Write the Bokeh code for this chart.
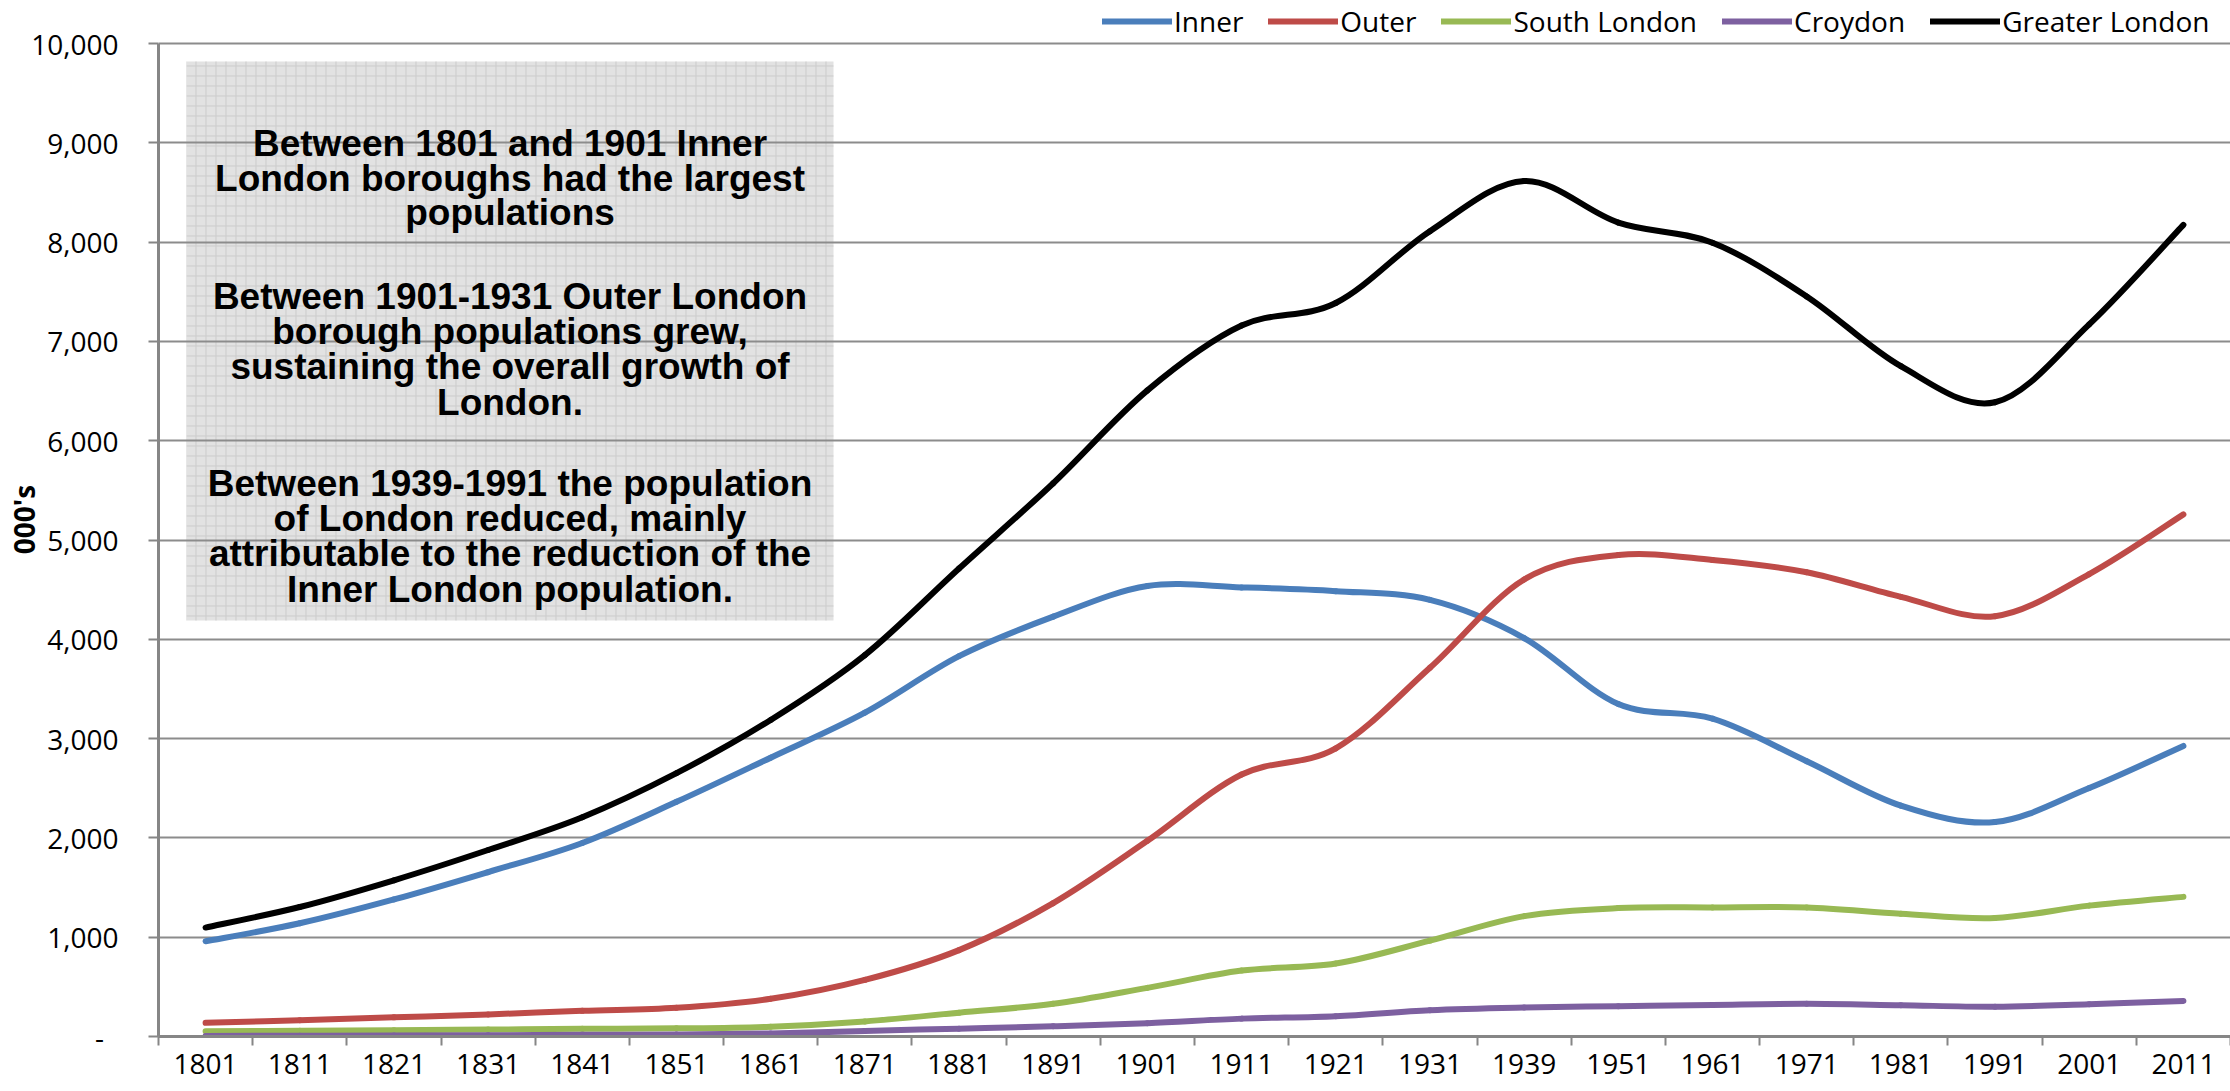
from bokeh.plotting import figure
from bokeh.models import (Range1d, FixedTicker, NumeralTickFormatter, Legend, LegendItem,
                          ColumnDataSource, LinearAxis, Grid)
from bokeh.core.properties import value
from bokeh.embed import file_html
from bokeh.resources import INLINE

# ---------------- data (thousands) ----------------
years = ["1801", "1811", "1821", "1831", "1841", "1851", "1861", "1871", "1881", "1891",
         "1901", "1911", "1921", "1931", "1939", "1951", "1961", "1971", "1981", "1991",
         "2001", "2011"]
inner = [959, 1140, 1380, 1656, 1949, 2363, 2808, 3261, 3830, 4228,
         4536, 4522, 4485, 4397, 4013, 3348, 3200, 2772, 2325, 2160, 2502, 2926]
outer = [138, 164, 193, 222, 259, 289, 380, 570, 870, 1344,
         1971, 2638, 2902, 3713, 4602, 4849, 4799, 4675, 4428, 4233, 4657, 5258]
south_london = [53, 57, 63, 70, 77, 82, 99, 152, 240, 329,
                490, 664, 735, 965, 1212, 1293, 1300, 1300, 1237, 1194, 1318, 1406]
croydon = [6, 8, 9, 12, 17, 20, 30, 56, 79, 103,
           134, 180, 205, 265, 292, 305, 318, 329, 315, 300, 325, 358]
greater_london = [1097, 1304, 1573, 1878, 2208, 2652, 3188, 3841, 4713, 5572,
                  6507, 7160, 7387, 8110, 8615, 8197, 7993, 7453, 6750, 6387, 7172, 8174]

series_names = ["Inner", "Outer", "South London", "Croydon", "Greater London"]
series_values = [inner, outer, south_london, croydon, greater_london]
series_colors = ["#4a7ebb", "#be4b48", "#98b954", "#7d60a0", "#000000"]

y_ticks = [0, 1000, 2000, 3000, 4000, 5000, 6000, 7000, 8000, 9000, 10000]

note_lines = [
    "Between 1801 and 1901 Inner",
    "London boroughs had the largest",
    "populations",
    "Between 1901-1931 Outer London",
    "borough populations grew,",
    "sustaining the overall growth of",
    "London.",
    "Between 1939-1991 the population",
    "of London reduced, mainly",
    "attributable to the reduction of the",
    "Inner London population.",
]

# ---------------- layout ----------------
n = len(years)
centers = [i + 0.5 for i in range(n)]
FONT = "Open Sans"
GRID = "#8c8c8c"
AXIS = "#868686"
PX_PER_UNIT = 0.0993          # vertical pixels per thousand
FRAME_BOTTOM = 1036           # page y of the zero line
TOP_PAD = 41                  # pixels between frame top and the 10,000 line (legend space)

p = figure(width=2230, height=1090,
           x_range=Range1d(0, n),
           y_range=Range1d(0, 10000 + TOP_PAD / PX_PER_UNIT),
           output_backend="svg", toolbar_location=None,
           min_border_left=158, min_border_right=0, min_border_top=2, min_border_bottom=54,
           x_axis_type=None, y_axis_type=None)
p.outline_line_color = None
p.background_fill_color = "white"
p.border_fill_color = "white"

xaxis = LinearAxis(ticker=FixedTicker(ticks=centers, minor_ticks=list(range(n + 1))))
xaxis.major_label_overrides = {c: y for c, y in zip(centers, years)}
xaxis.major_tick_line_color = None
xaxis.major_tick_in = 0
xaxis.major_tick_out = 9
xaxis.minor_tick_in = 0
xaxis.minor_tick_out = 9
xaxis.minor_tick_line_color = AXIS
xaxis.minor_tick_line_width = 2
xaxis.axis_line_color = AXIS
xaxis.axis_line_width = 3
xaxis.major_label_text_font = FONT
xaxis.major_label_text_font_size = "28px"
xaxis.major_label_text_color = "black"
xaxis.major_label_standoff = 8
p.add_layout(xaxis, "below")

yaxis = LinearAxis(ticker=FixedTicker(ticks=y_ticks, minor_ticks=[]), bounds=(0, 10000))
yaxis.formatter = NumeralTickFormatter(format="0,0")
yaxis.major_label_overrides = {0: "-\u00a0\u00a0"}
yaxis.major_tick_in = 0
yaxis.major_tick_out = 10
yaxis.major_tick_line_color = AXIS
yaxis.major_tick_line_width = 2
yaxis.minor_tick_line_color = None
yaxis.axis_line_color = AXIS
yaxis.axis_line_width = 3
yaxis.major_label_text_font = FONT
yaxis.major_label_text_font_size = "28px"
yaxis.major_label_text_color = "black"
yaxis.major_label_standoff = 30
yaxis.axis_label = "000's"
yaxis.axis_label_text_font = FONT
yaxis.axis_label_text_font_style = "bold"
yaxis.axis_label_text_font_size = "28px"
yaxis.axis_label_text_color = "black"
yaxis.axis_label_standoff = -15
p.add_layout(yaxis, "left")

grid = Grid(dimension=1, ticker=yaxis.ticker, grid_line_color=GRID, grid_line_width=2)
p.add_layout(grid)

# annotation box (behind the grid)
box_left, box_right = (186 - 158) / 94.18, (833 - 158) / 94.18
box_top = (FRAME_BOTTOM - 61) / PX_PER_UNIT
box_bottom = (FRAME_BOTTOM - 620) / PX_PER_UNIT
p.quad(left=[box_left], right=[box_right], top=[box_top], bottom=[box_bottom],
       fill_color="#e2e2e2", line_color=None, hatch_pattern="+", hatch_color="#cbcbcb",
       hatch_scale=10, hatch_weight=1, level="image")

baselines_px = [143, 178, 212, 296, 331, 366, 402, 483, 518, 553, 589]
note_src = ColumnDataSource(dict(
    x=[(box_left + box_right) / 2] * len(note_lines),
    y=[(FRAME_BOTTOM - b) / PX_PER_UNIT for b in baselines_px],
    text=note_lines))
p.text(x="x", y="y", text="text", source=note_src, text_align="center",
       text_baseline="alphabetic", text_font=value("Liberation Sans"),
       text_font_style="bold", text_font_size="37px", text_color="black")


# smoothed lines (Catmull-Rom style cubic Bezier segments through the data points)
def bezier_source(vals):
    pts = list(zip(centers, vals))
    m = len(pts)
    d = dict(x0=[], y0=[], x1=[], y1=[], cx0=[], cy0=[], cx1=[], cy1=[])
    for i in range(m - 1):
        p0 = pts[max(i - 1, 0)]
        p1 = pts[i]
        p2 = pts[i + 1]
        p3 = pts[min(i + 2, m - 1)]
        d["x0"].append(p1[0]); d["y0"].append(p1[1])
        d["x1"].append(p2[0]); d["y1"].append(p2[1])
        d["cx0"].append(p1[0] + (p2[0] - p0[0]) / 6.0)
        d["cy0"].append(p1[1] + (p2[1] - p0[1]) / 6.0)
        d["cx1"].append(p2[0] - (p3[0] - p1[0]) / 6.0)
        d["cy1"].append(p2[1] - (p3[1] - p1[1]) / 6.0)
    return ColumnDataSource(d)


items = []
for name, vals, col in zip(series_names, series_values, series_colors):
    r = p.bezier(x0="x0", y0="y0", x1="x1", y1="y1", cx0="cx0", cy0="cy0", cx1="cx1", cy1="cy1",
                 source=bezier_source(vals), line_color=col, line_width=6, line_cap="round")
    items.append(LegendItem(label=name, renderers=[r]))

legend = Legend(items=items, orientation="horizontal", location=(944, 996),
                label_text_font=FONT, label_text_font_size="28px", label_text_color="black",
                glyph_width=70, glyph_height=20, label_standoff=2, spacing=25,
                padding=0, margin=0, border_line_color=None, background_fill_alpha=0)
p.add_layout(legend)

open("out.html", "w").write(file_html(p, INLINE))
